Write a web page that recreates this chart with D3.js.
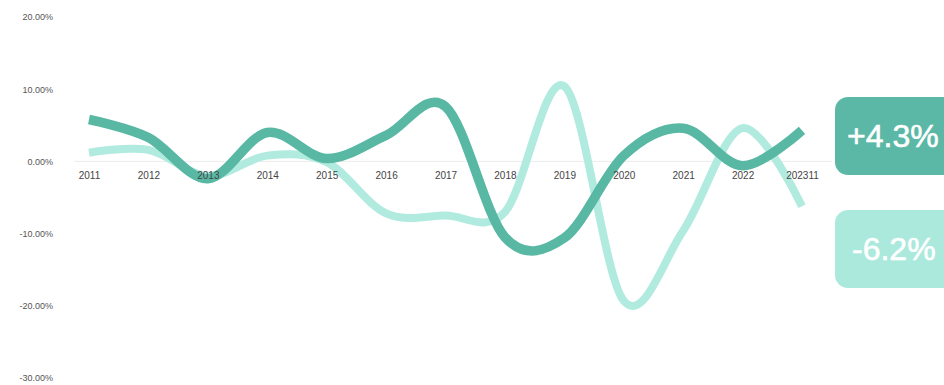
<!DOCTYPE html>
<html>
<head>
<meta charset="utf-8">
<script src="https://cdn.jsdelivr.net/npm/d3@7/dist/d3.min.js"></script>
<style>
  html, body { margin: 0; padding: 0; background: #ffffff; }
  svg { display: block; font-family: "Liberation Sans", Arial, sans-serif; }
</style>
</head>
<body>
<svg id="chart" width="944" height="385"></svg>
<script>
// Year labels along the x axis
const years = ["2011", "2012", "2013", "2014", "2015", "2016", "2017",
               "2018", "2019", "2020", "2021", "2022", "202311"];
// Year-on-year change, in percent
const seriesDark  = [5.8, 3.3, -2.4, 4.0, 0.4, 3.6, 7.6, -10.5, -10.6, 0.8, 4.6, -0.6, 4.3];
const seriesLight = [1.2, 1.6, -2.0, 0.8, -0.1, -7.2, -7.5, -7.0, 10.4, -19.3, -9.6, 4.6, -6.2];
// Y axis ticks, in percent
const yTicks = [20, 10, 0, -10, -20, -30];
// Latest-value badges
const badgeLabels = ["+4.3%", "-6.2%"];

const colDark = "#58b8a4";
const colLight = "#b1ebdf";
const badgeDark = "#5cb8a6";
const badgeLight = "#abe9dd";

const svg = d3.select("#chart");

const x = d3.scalePoint().domain(years).range([89, 802]);
const y = d3.scaleLinear().domain([-30, 20]).range([378, 17]);

// Y tick labels
const yAxis = d3.axisLeft(y)
  .tickValues(yTicks)
  .tickSize(0)
  .tickPadding(0)
  .tickFormat(d => d.toFixed(2) + "%");
const gy = svg.append("g").attr("transform", "translate(53,0)").call(yAxis);
gy.select(".domain").remove();
gy.selectAll("text")
  .attr("fill", "#555")
  .attr("font-size", 9)
  .attr("font-family", "'Liberation Sans', Arial, sans-serif");

// Zero baseline
svg.append("line")
  .attr("x1", 74).attr("x2", 832)
  .attr("y1", y(0)).attr("y2", y(0))
  .attr("stroke", "#ececec").attr("stroke-width", 1);

// Smoothed lines
const line = d3.line()
  .x((d, i) => x(years[i]))
  .y(d => y(d))
  .curve(d3.curveCardinal.tension(0));

svg.append("path")
  .datum(seriesLight)
  .attr("d", line)
  .attr("fill", "none")
  .attr("stroke", colLight)
  .attr("stroke-width", 8);

svg.append("path")
  .datum(seriesDark)
  .attr("d", line)
  .attr("fill", "none")
  .attr("stroke", colDark)
  .attr("stroke-width", 9.5);

// X axis labels, sitting just under the zero line
const xAxis = d3.axisBottom(x).tickSize(0).tickPadding(0);
const gx = svg.append("g").attr("transform", "translate(0," + (y(0) + 10) + ")").call(xAxis);
gx.select(".domain").remove();
gx.selectAll("text")
  .attr("fill", "#444")
  .attr("font-size", 10)
  .attr("font-family", "'Liberation Sans', Arial, sans-serif");

// Badges with the latest values
const badges = [
  { label: badgeLabels[0], top: 97, fill: badgeDark, tx: 847 },
  { label: badgeLabels[1], top: 210, fill: badgeLight, tx: 852 }
];
badges.forEach(b => {
  svg.append("rect")
    .attr("x", 835).attr("y", b.top)
    .attr("width", 130).attr("height", 78)
    .attr("rx", 13).attr("ry", 13)
    .attr("fill", b.fill);
  svg.append("text")
    .attr("x", b.tx).attr("y", b.top + 50)
    .attr("fill", "#ffffff")
    .attr("stroke", "#ffffff")
    .attr("stroke-width", 0.6)
    .attr("font-size", 32)
    .attr("font-family", "'Liberation Sans', Arial, sans-serif")
    .text(b.label);
});
</script>
</body>
</html>
